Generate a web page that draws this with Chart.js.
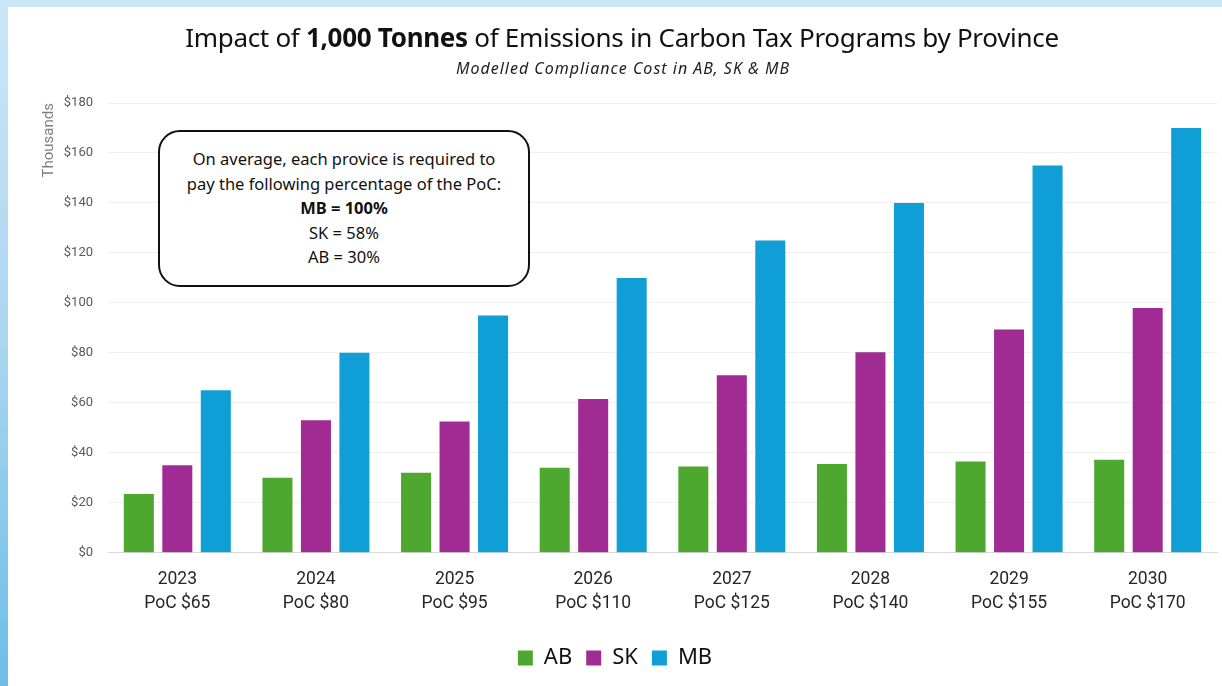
<!DOCTYPE html>
<html>
<head>
<meta charset="utf-8">
<script src="https://cdn.jsdelivr.net/npm/chart.js@4.4.1/dist/chart.umd.min.js"></script>
<style>
  html, body { margin: 0; padding: 0; width: 1222px; height: 686px; overflow: hidden; }
  body { background: linear-gradient(180deg, #cbe6f7 0%, #a9d6f1 50%, #6dbde7 100%); position: relative; font-family: "Noto Sans", "Open Sans", sans-serif; }
  #card { position: absolute; left: 8px; top: 7px; right: 0; bottom: 0; background: #ffffff; }
  #wrap { position: absolute; left: 0; top: 0; width: 1222px; height: 686px; }
  #title { position: absolute; left: 0; width: 1244px; top: 19px; text-align: center; font-size: 26px; color: #111; letter-spacing: -0.3px; white-space: nowrap; }
  #title b { font-weight: 700; }
  #subtitle { position: absolute; left: 0; width: 1246px; top: 57px; text-align: center; font-size: 16px; letter-spacing: 1px; font-style: italic; color: #222; }
  #note { position: absolute; left: 158px; top: 130px; width: 372px; height: 157px; border: 2px solid #111; border-radius: 22px; background: #fff; text-align: center; font-size: 16.5px; color: #111; box-sizing: border-box; padding-top: 15px; line-height: 24.5px; }
</style>
</head>
<body>
<div id="card"></div>
<div id="wrap"><canvas id="c" width="1222" height="686"></canvas></div>
<div id="title">Impact of <b>1,000 Tonnes</b> of Emissions in Carbon Tax Programs by Province</div>
<div id="subtitle">Modelled Compliance Cost in AB, SK &amp; MB</div>
<div id="note">On average, each provice is required to<br>pay the following percentage of the PoC:<br><b>MB = 100%</b><br>SK = 58%<br>AB = 30%</div>
<script>
const years = ['2023', '2024', '2025', '2026', '2027', '2028', '2029', '2030'];
const pocPrices = [65, 80, 95, 110, 125, 140, 155, 170];
const abValues = [23.5, 30, 32, 34, 34.5, 35.5, 36.5, 37.2];
const skValues = [35, 53, 52.5, 61.5, 71, 80.2, 89.3, 98];
const mbValues = [65, 80, 95, 110, 125, 140, 155, 170];
const seriesNames = ['AB', 'SK', 'MB'];
const seriesColors = ['#4ea72e', '#a02b93', '#0f9ed5'];

const labels = years.map((y, i) => [y, 'PoC $' + pocPrices[i]]);
const seriesData = [abValues, skValues, mbValues];

new Chart(document.getElementById('c'), {
  type: 'bar',
  data: {
    labels: labels,
    datasets: seriesNames.map((n, i) => ({
      label: n,
      data: seriesData[i],
      backgroundColor: seriesColors[i],
      borderWidth: 0,
      barPercentage: 0.78,
      categoryPercentage: 0.833
    }))
  },
  options: {
    responsive: false,
    animation: false,
    devicePixelRatio: 1,
    layout: { padding: { top: 103, right: 5, left: 13, bottom: 7 } },
    plugins: {
      title: { display: false },
      tooltip: { enabled: false },
      legend: {
        position: 'bottom',
        labels: {
          boxWidth: 15, boxHeight: 15, padding: 14,
          color: '#111',
          font: { family: '"Noto Sans", "Open Sans", sans-serif', size: 22 }
        }
      }
    },
    scales: {
      x: {
        grid: { display: false },
        border: { display: true, color: '#d9d9d9', width: 1 },
        afterFit: (scale) => { scale.height += 11; },
        ticks: {
          color: '#262626',
          padding: 7,
          font: { family: 'Roboto, "Liberation Sans", sans-serif', size: 17.5, lineHeight: 1.35 }
        }
      },
      y: {
        min: 0, max: 180,
        afterFit: (scale) => { scale.width = 95; },
        grid: { color: '#f0f0f0', drawTicks: false },
        border: { display: false },
        ticks: {
          stepSize: 20,
          padding: 15,
          color: '#595959',
          font: { family: 'Roboto, "Liberation Sans", sans-serif', size: 13 },
          callback: v => '$' + v
        },
        title: {
          display: true,
          text: 'Thousands',
          align: 'end',
          color: '#7f7f7f',
          padding: { top: 27, bottom: 5 },
          font: { family: 'Roboto, "Liberation Sans", sans-serif', size: 15 }
        }
      }
    }
  }
});
</script>
</body>
</html>
